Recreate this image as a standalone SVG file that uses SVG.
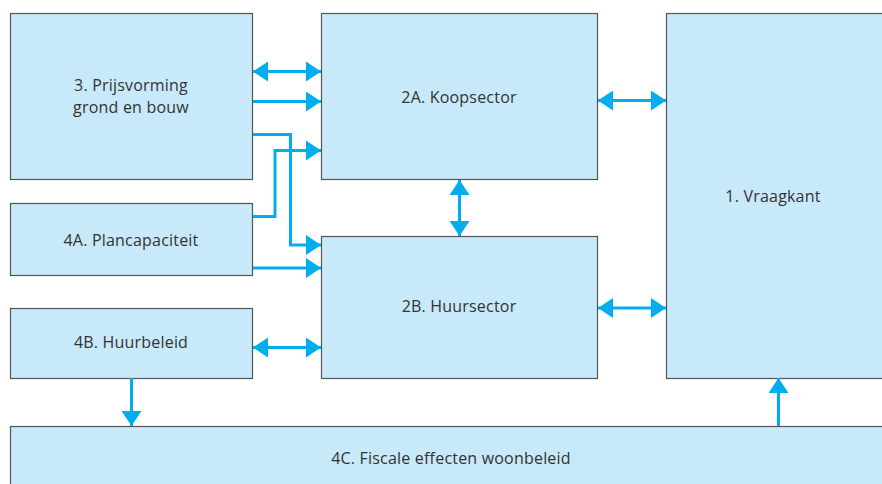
<svg xmlns="http://www.w3.org/2000/svg" width="882" height="484" viewBox="0 0 882 484">
<style>
.box{fill:#c7e9f9;stroke:#555;stroke-width:1.2}
.t{font-family:"Open Sans","Liberation Sans",sans-serif;font-size:16px;letter-spacing:0.2px;fill:#333;text-anchor:middle}
.c{fill:none;stroke:#00aeef;stroke-width:3}
.s{marker-end:url(#ah)}
.d{marker-end:url(#ah);marker-start:url(#ah)}
</style>
<defs>
<marker id="ah" markerUnits="userSpaceOnUse" markerWidth="16" markerHeight="20" refX="15" refY="10" orient="auto-start-reverse" viewBox="0 0 16 20">
<path d="M0,0 L15,10 L0,20 z" fill="#00aeef"/>
</marker>
</defs>
<rect width="882" height="484" fill="#fff"/>
<g id="n3"><rect class="box" x="10.5" y="13.5" width="242" height="166"/><text class="t" x="131" y="91">3. Prijsvorming</text><text class="t" x="131" y="113">grond en bouw</text></g>
<g id="n4A"><rect class="box" x="10.5" y="203.5" width="242" height="72"/><text class="t" x="131" y="246">4A. Plancapaciteit</text></g>
<g id="n4B"><rect class="box" x="10.5" y="308.5" width="242" height="70"/><text class="t" x="131" y="348">4B. Huurbeleid</text></g>
<g id="n2A"><rect class="box" x="321.5" y="13.5" width="276" height="166"/><text class="t" x="459" y="103">2A. Koopsector</text></g>
<g id="n2B"><rect class="box" x="321.5" y="236.5" width="276" height="142"/><text class="t" x="459" y="312">2B. Huursector</text></g>
<g id="n1"><rect class="box" x="666.5" y="13.5" width="220" height="365"/><text class="t" x="773" y="202">1. Vraagkant</text></g>
<g id="n4C"><rect class="box" x="10.5" y="426.5" width="880" height="70"/><text class="t" x="451" y="464">4C. Fiscale effecten woonbeleid</text></g>
<g id="connectors">
<path class="c d" d="M253,71.5 H321"/>
<path class="c s" d="M253,101.5 H321"/>
<path class="c s" d="M253,134.5 H290.5 V245 H321"/>
<path class="c s" d="M253,216.5 H275 V150.5 H321"/>
<path class="c s" d="M253,268 H321"/>
<path class="c d" d="M253,347.5 H321"/>
<path class="c d" d="M459.5,180 V236"/>
<path class="c d" d="M598,100.5 H666"/>
<path class="c d" d="M598,308 H666"/>
<path class="c s" d="M131.5,378 V426"/>
<path class="c s" d="M778.5,426 V378"/>
</g>
</svg>
